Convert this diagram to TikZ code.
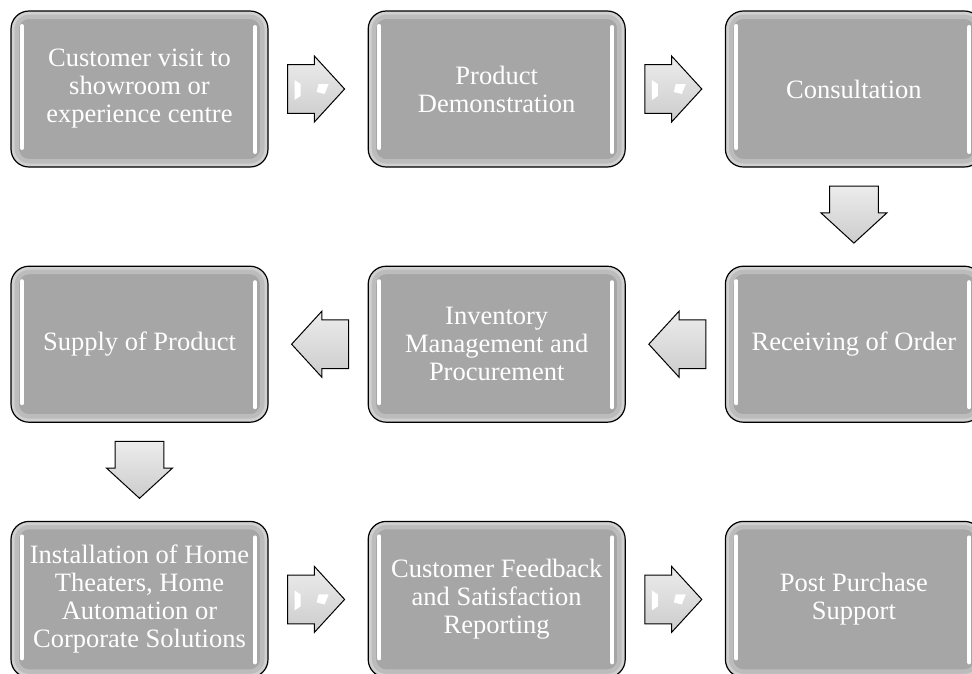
\documentclass[tikz,border=0pt]{standalone}
\usepackage{fontspec}
\setmainfont{Liberation Serif}
\usetikzlibrary{positioning,shapes.arrows,calc}

\definecolor{boxgray}{RGB}{166,166,166}
\definecolor{arrowlight}{RGB}{236,236,236}
\definecolor{arrowdark}{RGB}{204,204,204}

\begin{document}
\begin{tikzpicture} [node distance=98pt and 99pt,
  stepbox/.style={draw=black,line width=1.2pt,rounded corners=18pt,fill=boxgray,
    text=white,align=center,minimum width=257pt,minimum height=156pt,
    font=\fontsize{26.5}{28}\selectfont,
    path picture={
      \draw[white,opacity=0.25,line width=16pt,rounded corners=18pt]
        (path picture bounding box.south west) rectangle (path picture bounding box.north east);
      \draw[white,opacity=0.3,line width=7pt,rounded corners=18pt]
        (path picture bounding box.south west) rectangle (path picture bounding box.north east);
      \draw[white,line width=4pt,line cap=round]
        ([shift={(11pt,-15pt)}]path picture bounding box.north west) --
        ([shift={(11pt,19pt)}]path picture bounding box.south west);
      \draw[white,line width=4pt,line cap=round]
        ([shift={(-13pt,-16pt)}]path picture bounding box.north east) --
        ([shift={(-13pt,15pt)}]path picture bounding box.south east);
    }},
  flowarrow/.style={single arrow,draw=black,line width=1pt,anchor=tail,
    top color=arrowlight,bottom color=arrowdark,
    minimum height=57pt,minimum width=66pt,inner xsep=0pt,inner ysep=19.5pt,
    single arrow tip angle=95,
    path picture={
      \fill[white] ([shift={(7pt,-24pt)}]path picture bounding box.north west) --
        ++(6pt,-4pt) -- ++(0pt,-12pt) -- ++(-6pt,-4pt) -- cycle;
      \fill[white] ([shift={(31pt,-28pt)}]path picture bounding box.north west) --
        ++(10pt,0pt) -- ++(-4pt,-10pt) -- ++(-8pt,2pt) -- cycle;
    }}]
  \useasboundingbox (0,0) rectangle (972pt,-673pt);

  % first row
  \node[stepbox] (c1) at (139.5pt,-89pt) {Customer visit to\\showroom or\\experience centre};
  \node[stepbox] (c2) [right=of c1] {Product\\Demonstration};
  \node[stepbox] (c3) [right=of c2] {Consultation};

  % second row
  \node[stepbox] (c4) [below=of c3] {Receiving of Order};
  \node[stepbox] (c5) [left=of c4] {Inventory\\Management and\\Procurement};
  \node[stepbox] (c6) [left=of c5] {Supply of Product};

  % third row
  \node[stepbox] (c7) [below=of c6] {Installation of Home\\Theaters, Home\\Automation or\\Corporate Solutions};
  \node[stepbox] (c8) [right=of c7] {Customer Feedback\\and Satisfaction\\Reporting};
  \node[stepbox] (c9) [right=of c8] {Post Purchase\\Support};

  % arrows between the steps
  \node[flowarrow] (a1) at ($(c1.east)!18.5pt!(c2.west)$) {};
  \node[flowarrow] (a2) at ($(c2.east)!18.5pt!(c3.west)$) {};
  \node[flowarrow,rotate=-90] (a3) at ($(c3.south)!18pt!(c4.north)$) {};
  \node[flowarrow,rotate=180] (a4) at ($(c4.west)!18.5pt!(c5.east)$) {};
  \node[flowarrow,rotate=180] (a5) at ($(c5.west)!18.5pt!(c6.east)$) {};
  \node[flowarrow,rotate=-90] (a6) at ($(c6.south)!18pt!(c7.north)$) {};
  \node[flowarrow] (a7) at ($(c7.east)!18.5pt!(c8.west)$) {};
  \node[flowarrow] (a8) at ($(c8.east)!18.5pt!(c9.west)$) {};
\end{tikzpicture}
\end{document}
